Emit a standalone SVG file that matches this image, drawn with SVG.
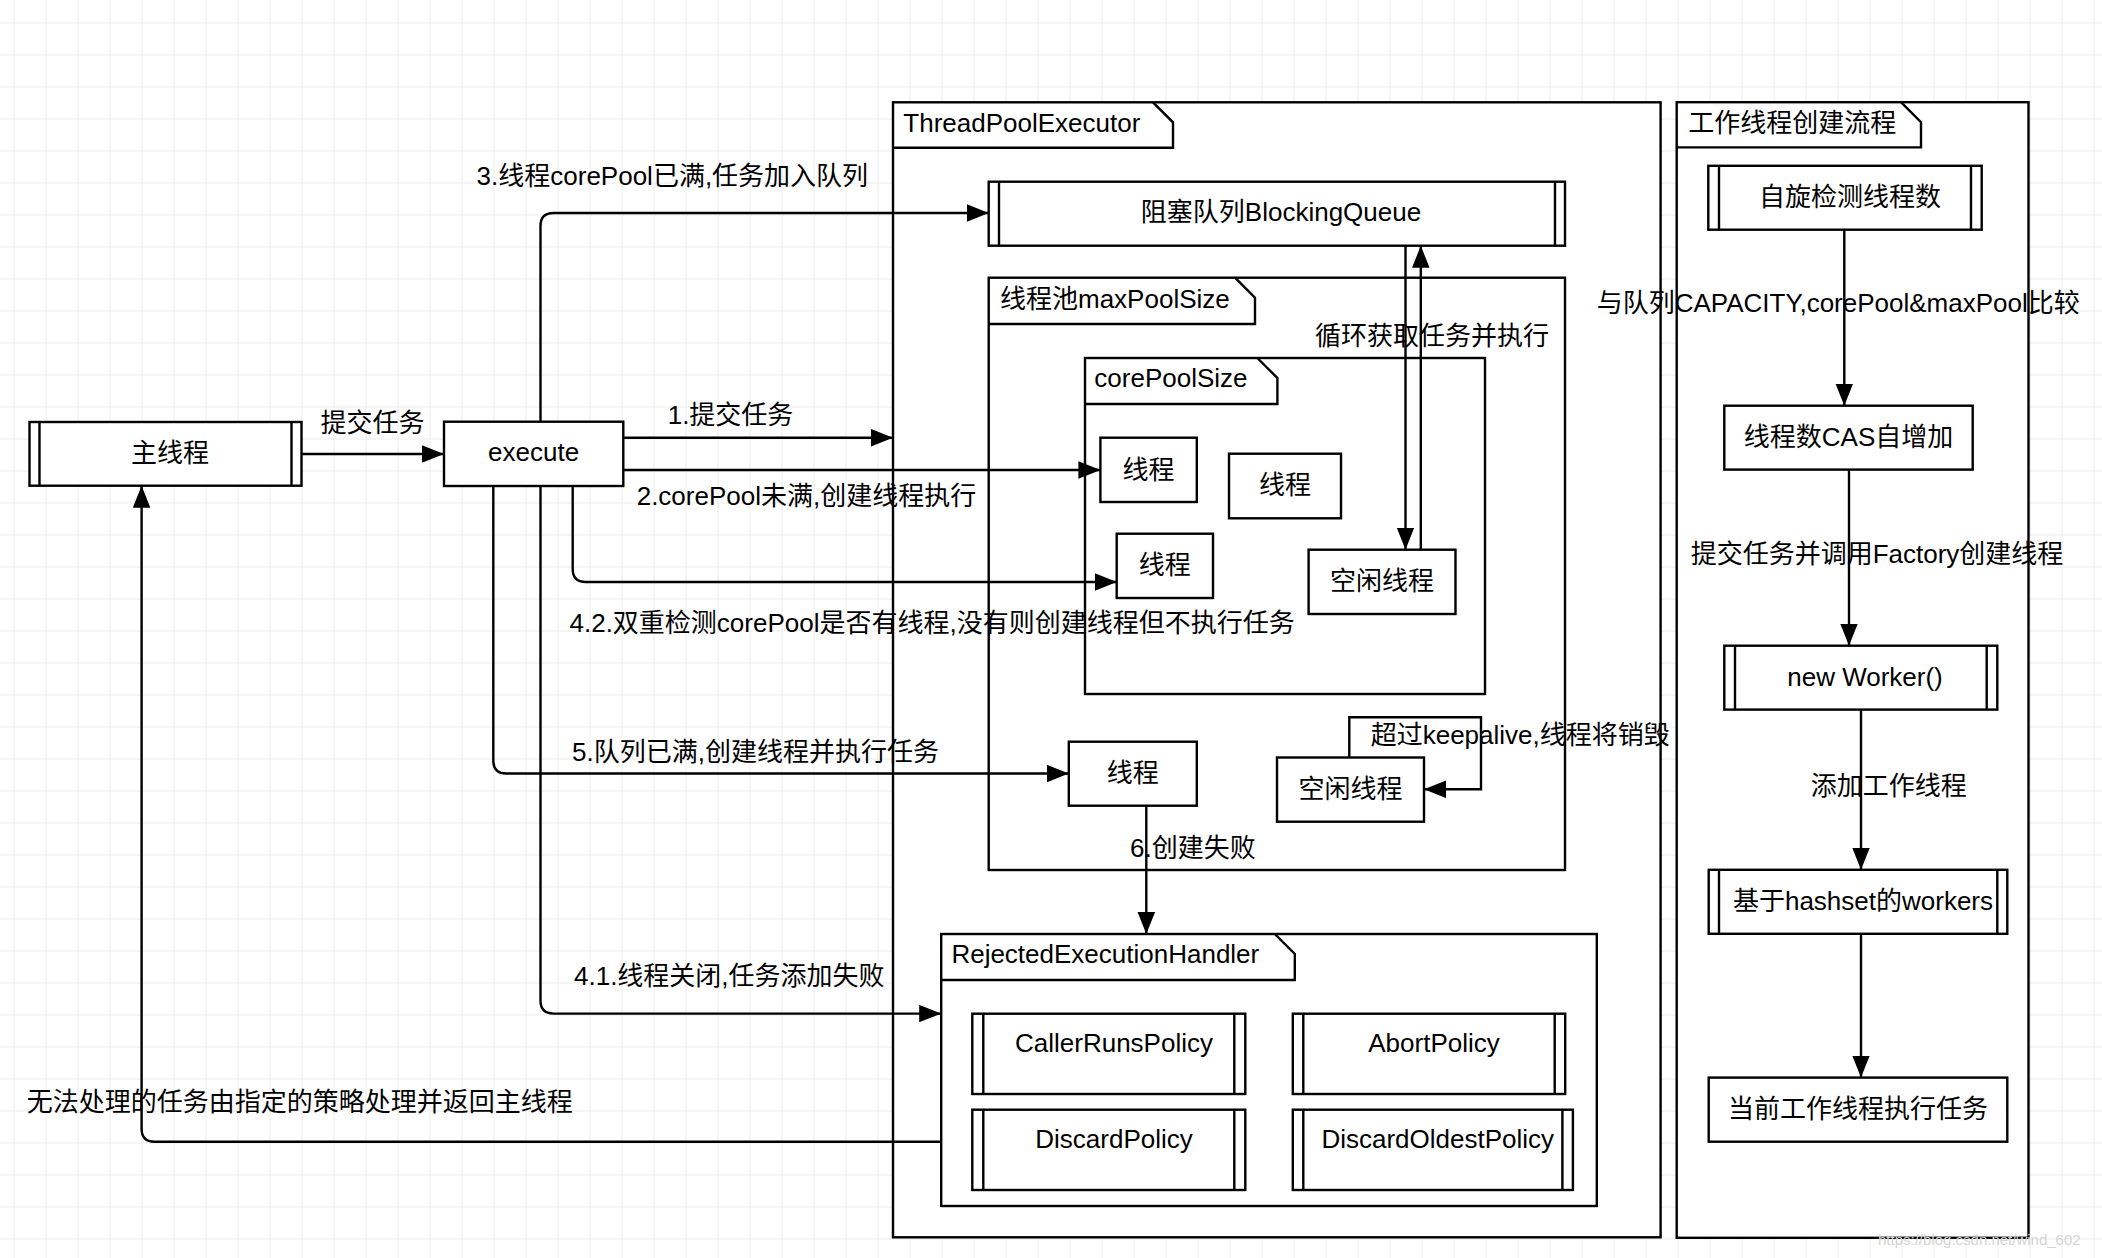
<svg xmlns="http://www.w3.org/2000/svg" width="2102" height="1258" viewBox="0 0 2102 1258">
<defs>
<style>
text{font-family:"Liberation Sans","Noto Sans CJK SC",sans-serif;font-size:26px;fill:#000}
.m{text-anchor:middle}
.b{fill:#fff;stroke:#000;stroke-width:2.4}
.l{fill:none;stroke:#000;stroke-width:2.4}
.c{fill:none;stroke:#000;stroke-width:2.4;marker-end:url(#arr)}
</style>
<pattern id="grid" width="32" height="32" patternUnits="userSpaceOnUse" x="13.5" y="22.5">
<path d="M0,0.5H32M0.5,0V32" fill="none" stroke="#ebebeb" stroke-width="1"/>
</pattern>
<marker id="arr" markerUnits="userSpaceOnUse" markerWidth="22" markerHeight="18" refX="22" refY="8.75" orient="auto">
<path d="M0,0L22,8.75L0,17.5z" fill="#000"/>
</marker>
</defs>
<rect width="2102" height="1258" fill="#fff"/>
<rect width="2102" height="1258" fill="url(#grid)"/>

<g id="ThreadPoolExecutor">
<rect class="b" x="893" y="102.3" width="767.6" height="1135"/>
<path class="l" d="M893,147.7H1173V122.3L1153,102.3"/>
<text x="903.3" y="132">ThreadPoolExecutor</text>
</g>
<g id="worker-flow">
<rect class="b" x="1676.7" y="102.2" width="351.8" height="1135.6"/>
<path class="l" d="M1676.7,147.4H1921V122.2L1901,102.2"/>
<text x="1688.3" y="131.5">工作线程创建流程</text>
</g>
<g id="BlockingQueue">
<rect class="b" x="988.7" y="181.7" width="576.3" height="64"/>
<path class="l" d="M999,181.7V245.7M1555,181.7V245.7"/>
<text class="m" x="1281" y="221">阻塞队列BlockingQueue</text>
</g>
<g id="maxPoolSize">
<rect class="b" x="988.7" y="277.7" width="576.3" height="592.3"/>
<path class="l" d="M988.7,324H1255V297.7L1235,277.7"/>
<text x="1000" y="308">线程池maxPoolSize</text>
</g>
<g id="corePoolSize">
<rect class="b" x="1085" y="358" width="400" height="336"/>
<path class="l" d="M1085,404H1277.4V378L1257.4,358"/>
<text x="1094.3" y="387.3">corePoolSize</text>
</g>
<g id="main-thread">
<rect class="b" x="29.5" y="422" width="272" height="63.7"/>
<path class="l" d="M39.5,422V485.7M291.5,422V485.7"/>
<text class="m" x="170" y="462">主线程</text>
</g>
<g id="execute">
<rect class="b" x="444" y="421.7" width="179.3" height="64.3"/>
<text class="m" x="533.6" y="461">execute</text>
</g>
<g id="thread1">
<rect class="b" x="1100.4" y="437.7" width="96.4" height="64.3"/>
<text class="m" x="1148.6" y="479">线程</text>
</g>
<g id="thread2">
<rect class="b" x="1229" y="453.7" width="112" height="64.6"/>
<text class="m" x="1285" y="494">线程</text>
</g>
<g id="thread3">
<rect class="b" x="1116.7" y="533.7" width="96.3" height="64.3"/>
<text class="m" x="1164.8" y="574">线程</text>
</g>
<g id="idle1">
<rect class="b" x="1308.6" y="549.7" width="146.9" height="64.3"/>
<text class="m" x="1382" y="590">空闲线程</text>
</g>
<g id="thread4">
<rect class="b" x="1068.8" y="741.7" width="128" height="64"/>
<text class="m" x="1132.8" y="782">线程</text>
</g>
<g id="idle2">
<rect class="b" x="1277" y="757.5" width="147" height="64.2"/>
<text class="m" x="1350.5" y="798">空闲线程</text>
</g>
<g id="RejectedExecutionHandler">
<rect class="b" x="941.2" y="934" width="655.6" height="272"/>
<path class="l" d="M941.2,980H1294.8V954L1274.8,934"/>
<text x="951.4" y="963.3">RejectedExecutionHandler</text>
</g>
<g id="CallerRunsPolicy">
<rect class="b" x="972.3" y="1013.7" width="273" height="80.3"/>
<path class="l" d="M983.3,1013.7V1094M1234.3,1013.7V1094"/>
<text class="m" x="1114" y="1051.7">CallerRunsPolicy</text>
</g>
<g id="AbortPolicy">
<rect class="b" x="1292.8" y="1013.7" width="272.4" height="80.3"/>
<path class="l" d="M1303.3,1013.7V1094M1554.7,1013.7V1094"/>
<text class="m" x="1434" y="1051.7">AbortPolicy</text>
</g>
<g id="DiscardPolicy">
<rect class="b" x="972.3" y="1109.7" width="273" height="80.3"/>
<path class="l" d="M983.3,1109.7V1190M1234.3,1109.7V1190"/>
<text class="m" x="1114" y="1148.3">DiscardPolicy</text>
</g>
<g id="DiscardOldestPolicy">
<rect class="b" x="1292.8" y="1109.7" width="280.1" height="80.3"/>
<path class="l" d="M1303.3,1109.7V1190M1562.4,1109.7V1190"/>
<text class="m" x="1437.7" y="1148.3">DiscardOldestPolicy</text>
</g>
<g id="spin-check">
<rect class="b" x="1708.3" y="165.8" width="273.4" height="63.9"/>
<path class="l" d="M1719,165.8V229.7M1971,165.8V229.7"/>
<text class="m" x="1850" y="206">自旋检测线程数</text>
</g>
<g id="cas-inc">
<rect class="b" x="1724.3" y="405.7" width="248.4" height="63.9"/>
<text class="m" x="1848.5" y="446">线程数CAS自增加</text>
</g>
<g id="new-worker">
<rect class="b" x="1724.3" y="645.7" width="273" height="63.9"/>
<path class="l" d="M1735,645.7V709.6M1986.7,645.7V709.6"/>
<text class="m" x="1865" y="686">new Worker()</text>
</g>
<g id="workers-set">
<rect class="b" x="1708.7" y="869.8" width="298.6" height="64"/>
<path class="l" d="M1719,869.8V933.8M1997.3,869.8V933.8"/>
<text class="m" x="1863" y="909.8">基于hashset的workers</text>
</g>
<g id="run-task">
<rect class="b" x="1708.7" y="1077.6" width="298.6" height="64.1"/>
<text class="m" x="1858" y="1117.7">当前工作线程执行任务</text>
</g>

<g id="connectors">
<path class="c" d="M301.5,454H444"/>
<path class="c" d="M623.3,437.7H893"/>
<path class="c" d="M623.3,470H1100.4"/>
<path class="c" d="M540.5,421.7V226Q540.5,213 553.5,213H988.7"/>
<path class="c" d="M540.5,486V1000.6Q540.5,1013.6 553.5,1013.6H941.2"/>
<path class="c" d="M572.7,486V569Q572.7,582 585.7,582H1116.7"/>
<path class="c" d="M493.3,486V760.5Q493.3,773.5 506.3,773.5H1068.8"/>
<path class="c" d="M941.2,1141.7H154.6Q141.6,1141.7 141.6,1128.7V485.7"/>
<path class="c" d="M1405.5,245.7V549.7"/>
<path class="c" d="M1420.8,549.7V245.7"/>
<path class="c" d="M1349.3,757.5V717.3H1481V789.3H1424"/>
<path class="c" d="M1146.3,805.7V934"/>
<path class="c" d="M1844.3,229.7V405.7"/>
<path class="c" d="M1849,469.6V645.7"/>
<path class="c" d="M1861,709.6V869.8"/>
<path class="c" d="M1861,933.8V1077.6"/>
</g>

<g id="labels">
<text x="320.5" y="431.7">提交任务</text>
<text x="476.6" y="185">3.线程corePool已满,任务加入队列</text>
<text x="667.7" y="424">1.提交任务</text>
<text x="636.7" y="505">2.corePool未满,创建线程执行</text>
<text x="569.5" y="631.8">4.2.双重检测corePool是否有线程,没有则创建线程但不执行任务</text>
<text x="572" y="761.3">5.队列已满,创建线程并执行任务</text>
<text x="574" y="985">4.1.线程关闭,任务添加失败</text>
<text x="26.8" y="1111">无法处理的任务由指定的策略处理并返回主线程</text>
<text x="1315" y="345">循环获取任务并执行</text>
<text x="1370.7" y="744.3">超过keepalive,线程将销毁</text>
<text x="1130" y="856.7">6.创建失败</text>
<text x="1596.7" y="311.5">与队列CAPACITY,corePool&amp;maxPool比较</text>
<text x="1690.7" y="562.5">提交任务并调用Factory创建线程</text>
<text x="1810.7" y="795.4">添加工作线程</text>
<text x="1878" y="1245" style="font-size:15px;fill:#d4d4d4">https://blog.csdn.net/wind_602</text>
</g>
</svg>
